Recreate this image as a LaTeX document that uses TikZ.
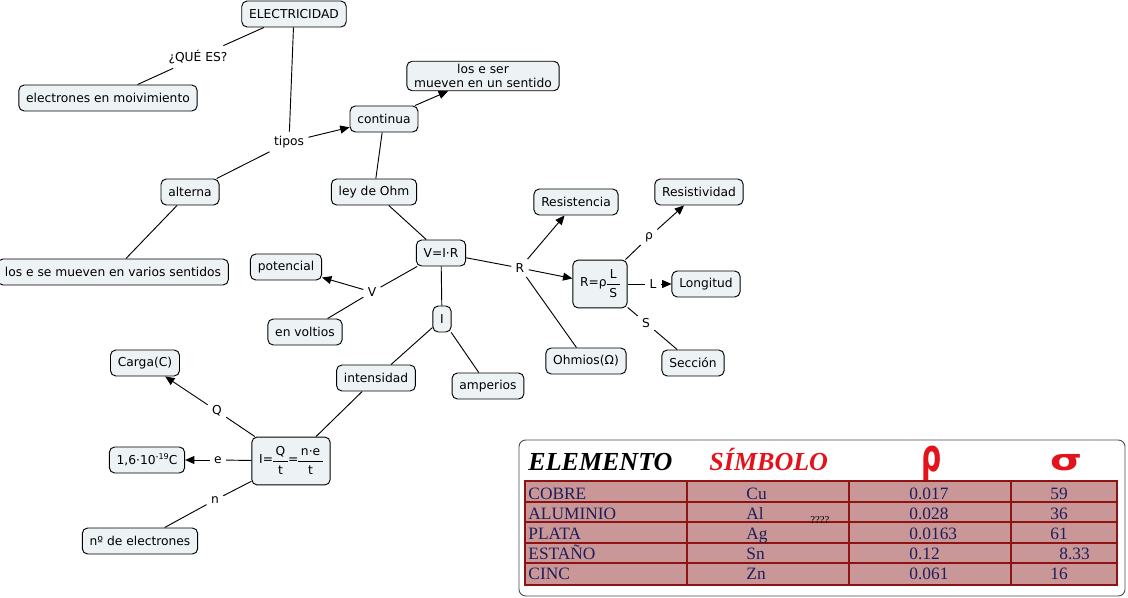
\documentclass[tikz,border=0pt]{standalone}
\usepackage{fontspec}
\setmainfont{DejaVu Sans}
\newfontfamily\tablefont{Liberation Serif}
\usepackage{xcolor}
\usepackage{graphicx}
\usetikzlibrary{arrows.meta}
\definecolor{boxfill}{HTML}{EDF2F5}
\definecolor{cellfill}{HTML}{C99797}
\definecolor{cellline}{HTML}{8E1414}
\definecolor{cellink}{HTML}{1E1E5A}
\definecolor{headred}{HTML}{E3121B}
\newcommand{\stackfrac}[2]{\ensuremath{\vcenter{\hbox{\tabcolsep=2pt\def\arraystretch{1.25}\begin{tabular}{c}#1\\\hline #2\end{tabular}}}}}

\begin{document}
\begin{tikzpicture}[
  x=0.75pt, y=-0.75pt,
  line width=0.7pt,
  concept/.style={rectangle, draw=black, fill=boxfill, rounded corners=4pt, minimum height=19.5pt, inner xsep=5.5pt, inner ysep=2pt, align=center, font=\fontsize{9.2}{11}\selectfont},
  linkword/.style={inner sep=3pt, font=\fontsize{9.2}{11}\selectfont},
  link/.style={draw=black},
  flow/.style={-{Triangle[length=7pt,width=6pt]}, draw=black},
  cell/.style={anchor=base west, inner sep=0pt, text=cellink, font=\tablefont\fontsize{13}{15}\selectfont}
]
  \useasboundingbox (0,0) rectangle (1128,598);

  % concepts
  \node[concept] (elec) at (294,14) {ELECTRICIDAD};
  \node[concept] (movim) at (108,98) {electrones en moivimiento};
  \node[concept] (continua) at (384,119) {continua};
  \node[concept] (unsentido) at (483,76) {los e ser\\ mueven en un sentido};
  \node[concept] (alterna) at (190,192) {alterna};
  \node[concept] (varios) at (113,272) {los e se mueven en varios sentidos};
  \node[concept] (leyohm) at (374,192) {ley de Ohm};
  \node[concept] (vir) at (441,253) {V=I·R};
  \node[concept] (potencial) at (286,267) {potencial};
  \node[concept] (voltios) at (305,332) {en voltios};
  \node[concept] (nodeI) at (442,319) {I};
  \node[concept] (intensidad) at (376,378) {intensidad};
  \node[concept] (amperios) at (488,386) {amperios};
  \node[concept] (resistencia) at (576,202) {Resistencia};
  \node[concept] (ohmios) at (586,361) {Ohmios(Ω)};
  \node[concept, inner ysep=4pt] (rform) at (600,284) {R=ρ\stackfrac{L}{S}};
  \node[concept] (resistividad) at (699,192) {Resistividad};
  \node[concept] (longitud) at (706,284) {Longitud};
  \node[concept] (seccion) at (693,363) {Sección};
  \node[concept] (carga) at (145,363) {Carga(C)};
  \node[concept, inner ysep=4pt] (iform) at (291,461) {I=\stackfrac{Q}{t}=\stackfrac{n·e}{t}};
  \node[concept, inner ysep=4pt] (qe) at (147,460) {1,6·10\raisebox{0.8ex}{\fontsize{6}{6}\selectfont -19}C};
  \node[concept] (nelec) at (140,541) {nº de electrones};

  % linking words
  \node[linkword] (quees) at (198,57) {¿QUÉ ES?};
  \node[linkword] (tipos) at (289,142) {tipos};
  \node[linkword] (lblV) at (372,292) {V};
  \node[linkword] (lblR) at (520,268) {R};
  \node[linkword] (lblrho) at (649,237) {ρ};
  \node[linkword] (lblL) at (653,284) {L};
  \node[linkword] (lblS) at (646,323) {S};
  \node[linkword] (lblQ) at (217,411) {Q};
  \node[linkword] (lblE) at (218,460) {e};
  \node[linkword] (lblN) at (215,500) {n};

  % connectors
  \draw[link] (elec) -- (quees);
  \draw[link] (quees) -- (movim);
  \draw[link] (elec) -- (tipos);
  \draw[flow] (tipos) -- (continua);
  \draw[link] (tipos) -- (alterna);
  \draw[flow] (continua) -- (unsentido);
  \draw[link] (continua) -- (leyohm);
  \draw[link] (alterna) -- (varios);
  \draw[link] (leyohm) -- (vir);
  \draw[link] (vir) -- (lblV);
  \draw[flow] (lblV) -- (potencial);
  \draw[link] (lblV) -- (voltios);
  \draw[link] (vir) -- (nodeI);
  \draw[link] (nodeI) -- (intensidad);
  \draw[link] (nodeI) -- (amperios);
  \draw[link] (vir) -- (lblR);
  \draw[flow] (lblR) -- (resistencia);
  \draw[flow] (lblR) -- (rform);
  \draw[link] (lblR) -- (ohmios);
  \draw[link] (rform) -- (lblrho);
  \draw[flow] (lblrho) -- (resistividad);
  \draw[link] (rform) -- (lblL);
  \draw[flow] (lblL) -- (longitud);
  \draw[link] (rform) -- (lblS);
  \draw[link] (lblS) -- (seccion);
  \draw[link] (intensidad) -- (iform);
  \draw[link] (iform) -- (lblQ);
  \draw[flow] (lblQ) -- (carga);
  \draw[link] (iform) -- (lblE);
  \draw[flow] (lblE) -- (qe);
  \draw[link] (iform) -- (lblN);
  \draw[link] (lblN) -- (nelec);

  % table of elements
  \draw[draw=black!70, fill=white, rounded corners=5pt] (519,440) rectangle (1125,596);
  \node[anchor=base west, inner sep=0pt, font=\tablefont\bfseries\itshape\fontsize{19.5}{22}\selectfont] (hElem) at (528,470) {ELEMENTO};
  \node[anchor=base west, inner sep=0pt, text=headred, font=\tablefont\bfseries\itshape\fontsize{19.5}{22}\selectfont] (hSimb) at (709,470) {SÍMBOLO};
  \node[anchor=base, inner sep=0pt, text=headred, font=\bfseries\fontsize{34}{34}\selectfont] (hRho) at (932,471) {\scalebox{0.62}[1]{ρ}};
  \node[anchor=base, inner sep=0pt, text=headred, font=\bfseries\fontsize{22}{22}\selectfont] (hSigma) at (1066,470) {\scalebox{1.4}[1]{σ}};
  \fill[cellfill] (525,481) rectangle (1117,585);
  \draw[cellline, line width=1.1pt] (525,481) rectangle (1117,585);
  \foreach \yy in {502,522,543,563}
    \draw[cellline, line width=1.1pt] (525,\yy) -- (1117,\yy);
  \foreach \xx in {687,849,1011}
    \draw[cellline, line width=1.1pt] (\xx,481) -- (\xx,585);
  \foreach \nm/\sym/\rh/\sg/\sx/\yb in {COBRE/Cu/0.017/59/1050/499, ALUMINIO/Al/0.028/36/1050/519, PLATA/Ag/0.0163/61/1050/539, ESTAÑO/Sn/0.12/8.33/1059/559, CINC/Zn/0.061/16/1050/579}{
    \node[cell] at (528,\yb) {\nm};
    \node[cell] at (746,\yb) {\sym};
    \node[cell] at (909,\yb) {\rh};
    \node[cell] at (\sx,\yb) {\sg};
  }
  \node[anchor=base west, inner sep=0pt, font=\tablefont\fontsize{8}{9}\selectfont] (qmarks) at (810,523) {????};
\end{tikzpicture}
\end{document}
